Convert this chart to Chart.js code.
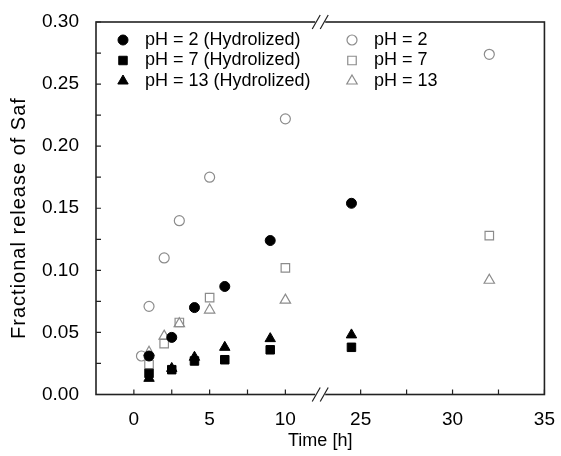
<!DOCTYPE html>
<html>
<head>
<meta charset="utf-8">
<script src="https://cdn.jsdelivr.net/npm/chart.js@4.4.1/dist/chart.umd.min.js"></script>
<style>
    html, body { margin: 0; padding: 0; background: #fff; }
    #wrap { width: 561px; height: 456px; }
</style>
</head>
<body>
<div id="wrap"><canvas id="releaseChart" width="561" height="456"></canvas></div>
<script>
// values (time in h, fractional release of Saf)
var timeHyd = [1, 2.5, 4, 6, 9, 24.5];
var ph2Hyd = [0.031, 0.046, 0.070, 0.087, 0.124, 0.154];
var ph7Hyd = [0.017, 0.020, 0.027, 0.028, 0.036, 0.038];
var ph13Hyd = [0.013, 0.021, 0.030, 0.038, 0.045, 0.048];

var timePh2 = [0.5, 1, 2, 3, 5, 10, 32];
var ph2 = [0.031, 0.071, 0.110, 0.140, 0.175, 0.222, 0.274];
var timeRaw = [1, 2, 3, 5, 10, 32];
var ph7 = [0.024, 0.041, 0.058, 0.078, 0.102, 0.128];
var ph13 = [0.034, 0.047, 0.057, 0.068, 0.076, 0.092];

// tick labels (majors get a label, minors only a tick mark)
var xTicksLeft = [0, 5, 10];
var xMinorLeft = [2.5, 7.5];
var xTicksRight = [25, 30, 35];
var xMinorRight = [27.5, 32.5];
var yTicks = [0, 0.05, 0.10, 0.15, 0.20, 0.25, 0.30];
var yMinor = [0.025, 0.075, 0.125, 0.175, 0.225, 0.275];

// broken time axis: left part ends near 12.3 h, right part starts near 22.8 h
var breakLow = 12.3;
var breakHigh = 22.8;

var FONT = '"Liberation Sans", Arial, Helvetica, sans-serif';
var GREY = '#8c8c8c';

var series = [
    { label: 'pH = 2 (Hydrolized)', t: timeHyd, v: ph2Hyd, style: 'circle', open: false, r: 5 },
    { label: 'pH = 7 (Hydrolized)', t: timeHyd, v: ph7Hyd, style: 'rect', open: false, r: 6 },
    { label: 'pH = 13 (Hydrolized)', t: timeHyd, v: ph13Hyd, style: 'triangle', open: false, r: 6 },
    { label: 'pH = 2', t: timePh2, v: ph2, style: 'circle', open: true, r: 5 },
    { label: 'pH = 7', t: timeRaw, v: ph7, style: 'rect', open: true, r: 6 },
    { label: 'pH = 13', t: timeRaw, v: ph13, style: 'triangle', open: true, r: 6 }
];

// every series is split in two, one half per side of the axis break
var datasets = [];
series.forEach(function (s) {
    var left = [], right = [];
    s.t.forEach(function (t, j) {
        var p = { x: t, y: s.v[j] };
        if (t < breakLow) left.push(p); else right.push(p);
    });
    [['x', left], ['x2', right]].forEach(function (part) {
        datasets.push({
            label: s.label,
            data: part[1],
            xAxisID: part[0],
            pointStyle: s.style,
            pointRadius: s.r,
            backgroundColor: s.open ? 'rgba(0,0,0,0)' : '#000',
            borderColor: s.open ? GREY : '#000',
            borderWidth: s.open ? 1.2 : 1,
            showLine: false
        });
    });
});

function setTicks(majors, minors) {
    return function (scale) {
        scale.ticks = majors.concat(minors).sort(function (a, b) { return a - b; })
            .map(function (v) { return { value: v }; });
    };
}

function xLabel(majors) {
    return function (value) {
        return majors.indexOf(value) >= 0 ? String(value) : '';
    };
}

var framePlugin = {
    id: 'frame',
    afterDraw: function (chart) {
        var ctx = chart.ctx;
        var a = chart.chartArea;
        var xl = chart.scales.x, xr = chart.scales.x2, ys = chart.scales.y;
        ctx.save();
        ctx.strokeStyle = '#222';
        ctx.lineWidth = 1.6;
        ctx.strokeRect(a.left, a.top, a.right - a.left, a.bottom - a.top);

        // inward tick marks
        ctx.lineWidth = 1.2;
        ctx.beginPath();
        ys.ticks.forEach(function (tk) {
            var py = ys.getPixelForValue(tk.value);
            ctx.moveTo(a.left, py);
            ctx.lineTo(a.left + 5, py);
        });
        [xl, xr].forEach(function (sc) {
            sc.ticks.forEach(function (tk) {
                var px = sc.getPixelForValue(tk.value);
                ctx.moveTo(px, a.bottom);
                ctx.lineTo(px, a.bottom - 5);
            });
        });
        ctx.stroke();

        // break marks on top and bottom edges
        var bx = xl.right;
        [a.top, a.bottom].forEach(function (by) {
            ctx.fillStyle = '#fff';
            ctx.fillRect(bx - 5, by - 2, 10, 4);
            ctx.beginPath();
            ctx.moveTo(bx - 8, by + 7);
            ctx.lineTo(bx, by - 7);
            ctx.moveTo(bx, by + 7);
            ctx.lineTo(bx + 8, by - 7);
            ctx.stroke();
        });

        // legend, two columns inside the plot
        ctx.font = '18px ' + FONT;
        ctx.textBaseline = 'middle';
        ctx.textAlign = 'left';
        series.forEach(function (s, i) {
            var col = i < 3 ? 0 : 1;
            var row = i % 3;
            var mx = a.left + (col ? 256 : 27);
            var my = a.top + 18 + row * 20.5;
            ctx.fillStyle = s.open ? 'rgba(0,0,0,0)' : '#000';
            ctx.strokeStyle = s.open ? GREY : '#000';
            ctx.lineWidth = s.open ? 1.2 : 1;
            Chart.helpers.drawPoint(ctx, { pointStyle: s.style, radius: s.r, rotation: 0, borderWidth: ctx.lineWidth }, mx, my);
            ctx.fillStyle = '#000';
            ctx.fillText(s.label, mx + 22, my);
        });

        // x axis title, centred on the whole broken axis
        ctx.textAlign = 'center';
        ctx.fillText('Time [h]', (a.left + a.right) / 2, 441);

        // y axis title
        ctx.translate(19, 218);
        ctx.rotate(-Math.PI / 2);
        ctx.font = '20px ' + FONT;
        ctx.letterSpacing = '1px';
        ctx.fillText('Fractional release of Saf', 0, 0);
        ctx.restore();
    }
};

var tickFont = { family: FONT, size: 19 };

var releaseChart = new Chart(document.getElementById('releaseChart').getContext('2d'), {
    type: 'scatter',
    data: { datasets: datasets },
    options: {
        responsive: false,
        animation: false,
        events: [],
        layout: { padding: { left: 0, right: 10, top: 22, bottom: 0 } },
        plugins: { legend: { display: false }, tooltip: { enabled: false } },
        scales: {
            x: {
                type: 'linear', position: 'bottom', stack: 'time', stackWeight: 1,
                min: -2.5, max: breakLow,
                grid: { display: false }, border: { display: false },
                afterBuildTicks: setTicks(xTicksLeft, xMinorLeft),
                afterFit: function (scale) { scale.height = 61.5; },
                ticks: { font: tickFont, color: '#000', padding: 6, maxRotation: 0, autoSkip: false, callback: xLabel(xTicksLeft) }
            },
            x2: {
                type: 'linear', position: 'bottom', stack: 'time', stackWeight: 1,
                min: breakHigh, max: 35,
                grid: { display: false }, border: { display: false },
                afterBuildTicks: setTicks(xTicksRight, xMinorRight),
                afterFit: function (scale) { scale.height = 61.5; },
                ticks: { font: tickFont, color: '#000', padding: 6, maxRotation: 0, autoSkip: false, callback: xLabel(xTicksRight) }
            },
            y: {
                min: 0, max: 0.30,
                grid: { display: false }, border: { display: false },
                afterBuildTicks: setTicks(yTicks, yMinor),
                afterFit: function (scale) { scale.width = 96; },
                ticks: {
                    font: tickFont, color: '#000', padding: 9, autoSkip: false,
                    callback: function (value) {
                        return yTicks.indexOf(value) >= 0 ? value.toFixed(2) : '';
                    }
                }
            }
        }
    },
    plugins: [framePlugin]
});
</script>
</body>
</html>
